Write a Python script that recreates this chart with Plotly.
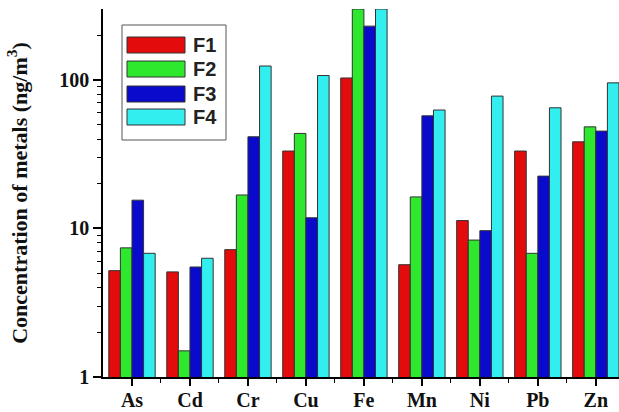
import plotly.graph_objects as go
import math

categories = ["As", "Cd", "Cr", "Cu", "Fe", "Mn", "Ni", "Pb", "Zn"]
series_names = ["F1", "F2", "F3", "F4"]
f1 = [5.2, 5.1, 7.2, 33.2, 103, 5.7, 11.3, 33.2, 38.3]
f2 = [7.4, 1.5, 16.8, 43.6, 300, 16.3, 8.35, 6.8, 48.3]
f3 = [15.5, 5.5, 41.4, 11.8, 230, 57.3, 9.66, 22.5, 45.2]
f4 = [6.8, 6.3, 124, 107, 300, 62.7, 77.8, 64.9, 95.5]
colors = ["#E30B0B", "#2EE82E", "#0A0ACC", "#33EEEE"]

W, H = 619, 412
L, R, T, B = 103, 0, 9, 35
pw, ph = W - L - R, H - T - B

def px(x):
    return (x - L) / pw

def py(y):
    return (H - B - y) / ph

xpos = list(range(len(categories)))
fig = go.Figure()
for name, vals, c in zip(series_names, [f1, f2, f3, f4], colors):
    fig.add_trace(go.Bar(x=xpos, y=vals, name=name, marker=dict(color=c, line=dict(color="#333333", width=1)),
                         showlegend=False))

# manual legend
shapes = [dict(type="rect", xref="paper", yref="paper", x0=px(122), x1=px(226), y0=py(140), y1=py(25),
               line=dict(color="#555555", width=1), fillcolor="white", layer="above")]
annotations = []
rows = [45, 69, 94, 117]
for name, c, yc in zip(series_names, colors, rows):
    shapes.append(dict(type="rect", xref="paper", yref="paper", x0=px(127), x1=px(185), y0=py(yc + 8), y1=py(yc - 8),
                       line=dict(color="#333333", width=1), fillcolor=c, layer="above"))
    annotations.append(dict(xref="paper", yref="paper", x=px(191), y=py(yc), text="<b>%s</b>" % name, showarrow=False,
                            xanchor="left", yanchor="middle",
                            font=dict(family="Liberation Sans, Arial", size=20, color="#222222")))

minor_y = [v * d for d in [1, 10] for v in range(2, 10)] + [200]

fig.update_layout(
    width=W, height=H,
    margin=dict(l=L, r=R, t=T, b=B),
    paper_bgcolor="white", plot_bgcolor="white",
    barmode="group", bargap=0.2, bargroupgap=0,
    shapes=shapes, annotations=annotations,
    xaxis=dict(range=[-0.5, 8.4], tickvals=xpos, ticktext=["<b>%s</b>" % c for c in categories],
               showgrid=False, zeroline=False,
               showline=True, linecolor="black", linewidth=1.5, ticks="outside", ticklen=7, tickwidth=1.5,
               tickcolor="black", ticklabelstandoff=-3,
               minor=dict(tickvals=[i + 0.5 for i in xpos[:-1]], ticks="outside", ticklen=4, tickcolor="black", tickwidth=1),
               tickfont=dict(family="Liberation Serif, Times New Roman", size=20, color="#111111")),
    yaxis=dict(type="log", range=[0, math.log10(300)], tickvals=[1, 10, 100], ticktext=["<b>1</b>", "<b>10</b>", "<b>100</b>"],
               showgrid=False, zeroline=False, showline=True, linecolor="black", linewidth=1.5,
               ticks="outside", ticklen=8, tickwidth=1.5, tickcolor="black",
               minor=dict(tickvals=minor_y, ticks="outside", ticklen=4, tickcolor="black", tickwidth=1),
               tickfont=dict(family="Liberation Serif, Times New Roman", size=20, color="#111111"),
               title=dict(text="<b>Concentration of metals (ng/m<sup>3</sup>)</b>", standoff=26,
                          font=dict(family="Liberation Serif, Times New Roman", size=22, color="#111111"))),
)

fig.write_html("out.html")
